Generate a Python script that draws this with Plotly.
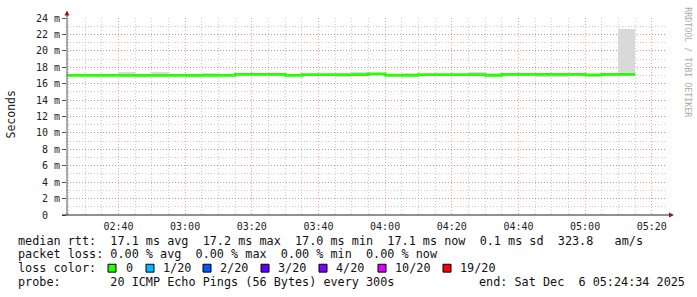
import plotly.graph_objects as go
from datetime import datetime, timedelta

# ---------------- data ----------------
bin_start = ["02:25", "02:30", "02:35", "02:40", "02:45", "02:50", "02:55", "03:00", "03:05", "03:10",
             "03:15", "03:20", "03:25", "03:30", "03:35", "03:40", "03:45", "03:50", "03:55", "04:00",
             "04:05", "04:10", "04:15", "04:20", "04:25", "04:30", "04:35", "04:40", "04:45", "04:50",
             "04:55", "05:00", "05:05", "05:10"]
median_ms = [17.02, 17.02, 17.02, 17.02, 17.02, 17.02, 17.02, 17.02, 17.02, 17.02,
             17.12, 17.12, 17.12, 17.0, 17.1, 17.1, 17.1, 17.1, 17.2, 17.05,
             17.0, 17.1, 17.1, 17.1, 17.1, 17.0, 17.12, 17.12, 17.12, 17.12,
             17.12, 17.08, 17.12, 17.14]
smoke_lo = [16.98, 16.98, 16.98, 16.98, 16.8, 16.98, 16.98, 16.85, 16.98, 16.98,
            17.05, 17.05, 17.05, 16.95, 17.05, 17.05, 16.85, 17.05, 17.1, 16.85,
            16.95, 16.95, 16.95, 17.05, 16.9, 16.95, 17.05, 17.05, 16.85, 16.85,
            17.05, 16.85, 17.05, 16.9]
smoke_hi = [17.06, 17.06, 17.06, 17.4, 17.06, 17.4, 17.06, 17.06, 17.3, 17.06,
            17.35, 17.35, 17.16, 17.05, 17.15, 17.15, 17.15, 17.4, 17.25, 17.1,
            17.25, 17.2, 17.2, 17.15, 17.4, 17.3, 17.16, 17.16, 17.16, 17.16,
            17.16, 17.12, 17.16, 22.6]
y_ticks = [0, 2, 4, 6, 8, 10, 12, 14, 16, 18, 20, 22, 24]
y_tick_text = ["0  ", "2 m", "4 m", "6 m", "8 m", "10 m", "12 m", "14 m", "16 m", "18 m", "20 m", "22 m", "24 m"]
loss_labels = ["0", "1/20", "2/20", "3/20", "4/20", "10/20", "19/20"]
loss_colors = ["#26ff00", "#00b8ff", "#0059ff", "#5e00ff", "#7e00ff", "#dd00ff", "#ff0000"]
legend_lines = [
    "median rtt:  17.1 ms avg  17.2 ms max  17.0 ms min  17.1 ms now  0.1 ms sd  323.8   am/s",
    "packet loss: 0.00 % avg  0.00 % max  0.00 % min  0.00 % now",
    "loss color:",
    "probe:       20 ICMP Echo Pings (56 Bytes) every 300s",
]
end_text = "end: Sat Dec  6 05:24:34 2025"

# ---------------- layout constants ----------------
W, H = 697, 297
L, R, T, B = 67, 30, 15, 82
PW, PH = W - L - R, H - T - B
MONO = "DejaVu Sans Mono"


def px(x):
    return (x - L) / PW


def py(y):
    return (H - B - y) / PH


day = datetime(2025, 12, 6)
starts = [day + timedelta(hours=int(s[:2]), minutes=int(s[3:])) for s in bin_start]
step = timedelta(minutes=5)
x_end = datetime(2025, 12, 6, 5, 24, 34)
x_start = x_end - timedelta(hours=3)

fig = go.Figure()

# smoke
fig.add_trace(go.Bar(
    x=[s + step / 2 for s in starts],
    y=[h - l for h, l in zip(smoke_hi, smoke_lo)],
    base=smoke_lo,
    width=step.total_seconds() * 1000,
    marker=dict(color="#d9d9d9", line=dict(width=0)),
    hoverinfo="skip",
    showlegend=False,
))

# median line
line_x = [x_start] + starts[1:] + [starts[-1] + step]
line_y = median_ms + [median_ms[-1]]
fig.add_trace(go.Scatter(
    x=line_x, y=line_y, mode="lines", line=dict(color="#26ff00", width=2.8, shape="hv"),
    hoverinfo="skip", showlegend=False,
))

grid_minor = "rgba(140,140,140,0.45)"
grid_major = "rgba(225,90,90,0.55)"

fig.update_layout(
    width=W, height=H,
    margin=dict(l=L, r=R, t=T, b=B, pad=0),
    paper_bgcolor="white", plot_bgcolor="white",
    bargap=0,
    showlegend=False,
    xaxis=dict(
        type="date", range=[x_start, x_end],
        tick0="2025-12-06 00:00", dtick=20 * 60 * 1000, tickformat="%H:%M",
        showgrid=True, gridcolor=grid_major, griddash="1px,2px", gridwidth=1,
        minor=dict(dtick=5 * 60 * 1000, tick0="2025-12-06 00:00", showgrid=True,
                   gridcolor=grid_minor, griddash="1px,2px", gridwidth=1),
        tickfont=dict(family=MONO, size=10, color="#222"),
        ticks="", ticklabelstandoff=4, showline=False, zeroline=False, fixedrange=True,
    ),
    yaxis=dict(
        range=[0, 24], tickvals=y_ticks, ticktext=[t.replace(" ", "\u00a0") for t in y_tick_text],
        showgrid=True, gridcolor=grid_major, griddash="1px,2px", gridwidth=1,
        minor=dict(dtick=1, showgrid=True, gridcolor=grid_minor, griddash="1px,2px", gridwidth=1),
        tickfont=dict(family=MONO, size=10, color="#222"),
        ticks="outside", ticklen=4, tickcolor="#555", tickwidth=1,
        showline=False, zeroline=False, fixedrange=True,
    ),
)

shapes = []
# axes
shapes.append(dict(type="line", xref="paper", yref="paper", x0=px(L), x1=px(L), y0=py(215), y1=py(11),
                   line=dict(color="#555", width=1)))
shapes.append(dict(type="line", xref="paper", yref="paper", x0=px(62), x1=px(670), y0=py(215), y1=py(215),
                   line=dict(color="#222", width=1)))
# arrows
shapes.append(dict(type="path", xref="paper", yref="paper",
                   path=f"M {px(64.5)} {py(12.5)} L {px(69.5)} {py(12.5)} L {px(67)} {py(7.5)} Z",
                   fillcolor="#a01010", line=dict(width=0)))
shapes.append(dict(type="path", xref="paper", yref="paper",
                   path=f"M {px(669)} {py(212.5)} L {px(669)} {py(217.5)} L {px(674)} {py(215)} Z",
                   fillcolor="#a01010", line=dict(width=0)))

annotations = []
# y title
annotations.append(dict(text="Seconds", xref="paper", yref="paper", x=px(11), y=py(113),
                        xanchor="center", yanchor="middle", textangle=-90, showarrow=False,
                        font=dict(family=MONO, size=11.5, color="#222")))
# watermark
annotations.append(dict(text="RRDTOOL / TOBI OETIKER", xref="paper", yref="paper", x=px(688), y=py(60),
                        xanchor="center", yanchor="middle", textangle=90, showarrow=False,
                        font=dict(family=MONO, size=8.3, color="#aaaaaa")))

# legend text lines
line_y_px = [241, 255, 269, 283]
for txt, yy in zip(legend_lines, line_y_px):
    annotations.append(dict(text=txt.replace(" ", "\u00a0"), xref="paper", yref="paper", x=px(16), y=py(yy),
                            xanchor="left", yanchor="middle", showarrow=False,
                            font=dict(family=MONO, size=11.8, color="#111")))
annotations.append(dict(text=end_text.replace(" ", "\u00a0"), xref="paper", yref="paper", x=px(477), y=py(283),
                        xanchor="left", yanchor="middle", showarrow=False,
                        font=dict(family=MONO, size=11.8, color="#111")))

# loss color boxes
box_x = [108, 146, 203, 261, 319, 378, 443]
label_x = [124, 161, 218, 276, 334, 393, 458]
for lab, col, bx, lx in zip(loss_labels, loss_colors, box_x, label_x):
    shapes.append(dict(type="rect", xref="paper", yref="paper", x0=px(bx), x1=px(bx + 8),
                       y0=py(265), y1=py(273), fillcolor=col, line=dict(color="#000", width=1)))
    annotations.append(dict(text=lab, xref="paper", yref="paper", x=px(lx), y=py(269),
                            xanchor="left", yanchor="middle", showarrow=False,
                            font=dict(family=MONO, size=11.8, color="#111")))

fig.update_layout(shapes=shapes, annotations=annotations)
fig.write_html("out.html")
